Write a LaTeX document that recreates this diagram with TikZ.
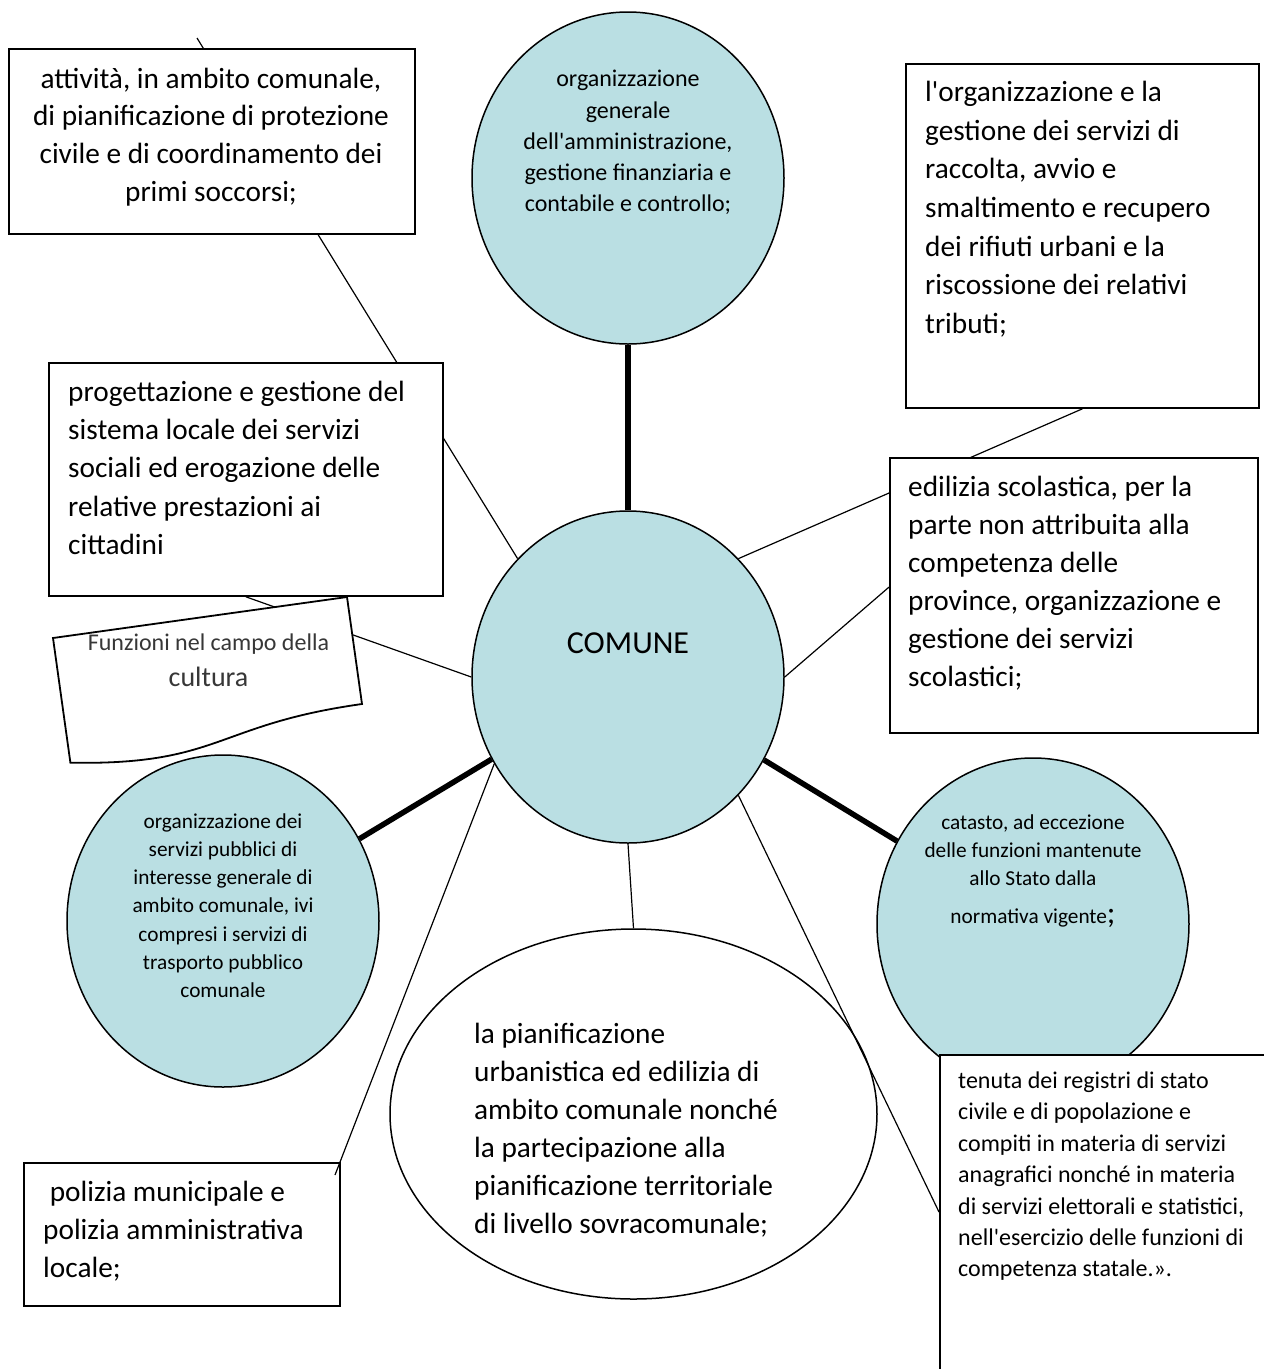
\documentclass[tikz,border=0pt]{standalone}
\usepackage{fontspec}
\setmainfont{Carlito}
\usetikzlibrary{calc,backgrounds,shapes.geometric}
\definecolor{circfill}{RGB}{186,223,227}
\definecolor{lighttext}{RGB}{55,55,55}
\begin{document}
\begin{tikzpicture}[x=1pt,y=-1pt,
  circ/.style={ellipse, draw=black, line width=1.5pt, fill=circfill, minimum width=312pt, minimum height=332pt, inner sep=0pt},
  boxsh/.style={rectangle, draw=black, line width=1.8pt, fill=white, inner sep=0pt, anchor=north west},
  conn/.style={line width=1.2pt},
  heavy/.style={line width=5.5pt},
  txtc/.style={inner sep=0pt, anchor=north, align=flush center, text width=400pt},
  txtl/.style={inner sep=0pt, anchor=north west, align=flush left, text width=400pt},
  bigfont/.style={font=\fontsize{29.3}{#1}\selectfont},
]
\useasboundingbox (0,0) rectangle (1264,1369);

% ---- shapes (bottom to top) ----
\node[circ] (topc) at (628,178) {};
\node[circ] (comune) at (628,677) {};
\node[circ] (leftc) at (223,921) {};
\node[circ] (catasto) at (1033,924) {};
\node[ellipse, draw=black, line width=1.5pt, fill=white, minimum width=487pt, minimum height=370pt, inner sep=0pt] (plan) at (633.5,1114) {};

\node[boxsh, minimum width=406pt, minimum height=185pt] (box1) at (8,48) {};
\node[boxsh, minimum width=394pt, minimum height=233pt] (box2) at (48,362) {};
\node[boxsh, minimum width=353pt, minimum height=344pt] (rifiuti) at (905,63) {};
\node[boxsh, minimum width=368pt, minimum height=275pt] (edilizia) at (889,457) {};
\node[boxsh, minimum width=330pt, minimum height=330pt] (tenuta) at (939,1054) {};
\node[boxsh, minimum width=316pt, minimum height=143pt] (polizia) at (23,1162) {};

% culture "document" shape
\draw[line width=1.8pt, fill=white] (53,638) coordinate (cultTL) -- (347,597) coordinate (cultTR)
  -- (362,704) coordinate (cultBR) .. controls (215,724.6) and (220.6,765.4) .. (70.4,762.7) coordinate (cultBL) -- cycle;

% ---- free ends ----
\coordinate (s1) at (197,38);
\coordinate (pz) at (335,1175);
\coordinate (tz) at (939,1212);
\coordinate (ed1) at ($(edilizia.north west)!0.47!(edilizia.south west)$);

% ---- connectors behind shapes ----
\begin{scope}[on background layer]
  \draw[conn] (comune.133) -- (s1);
  \draw[conn] (comune.west) -- (box2.south);
  \draw[conn] (comune.47) -- (rifiuti.south);
  \draw[conn] (comune.east) -- (ed1);
  \draw[heavy] (comune.north) -- (topc.south);
  \draw[heavy] (comune) -- (leftc);
  \draw[heavy] (comune) -- (catasto);
  \draw[conn] (comune.south) -- (plan.north);
\end{scope}
% connectors on top
\draw[conn] (comune.213) -- (pz);
\draw[conn] (comune.313) -- (tz);

% ---- texts ----
\node[txtc, bigfont=37.6] (t1) at (211,61.7) {\strut attività, in ambito comunale,\\ di pianificazione di protezione\\ civile e di coordinamento dei\\ primi soccorsi;};

\node[txtl, bigfont=38.3] (t2) at (68,374.2) {\strut progettazione e gestione del\\ sistema locale dei servizi\\ sociali ed erogazione delle\\ relative prestazioni ai\\ cittadini};

\node[txtl, bigfont=38.55] (t3) at (925,74.7) {\strut l\textquotesingle organizzazione e la\\ gestione dei servizi di\\ raccolta, avvio e\\ smaltimento e recupero\\ dei rifiuti urbani e la\\ riscossione dei relativi\\ tributi;};

\node[txtl, bigfont=38] (t4) at (908,470.1) {\strut edilizia scolastica, per la\\ parte non attribuita alla\\ competenza delle\\ province, organizzazione e\\ gestione dei servizi\\ scolastici;};

\node[txtl, bigfont=38] (t5) at (43,1175.1) {\strut\hspace*{6.6pt}polizia municipale e\\ polizia amministrativa\\ locale;};

\node[txtl, font=\fontsize{24}{31.45}\selectfont] (t6) at (958,1066) {\strut tenuta dei registri di stato\\ civile e di popolazione e\\ compiti in materia di servizi\\ anagrafici nonché in materia\\ di servizi elettorali e statistici,\\ nell\textquotesingle esercizio delle funzioni di\\ competenza statale.».};

\node[txtl, bigfont=38] (t7) at (474,1016.4) {\strut la pianificazione\\ urbanistica ed edilizia di\\ ambito comunale nonché\\ la partecipazione alla\\ pianificazione territoriale\\ di livello sovracomunale;};

\node[txtc, font=\fontsize{24}{31.25}\selectfont] (t8) at (628,64.8) {\strut organizzazione\\ generale\\ dell\textquotesingle amministrazione,\\ gestione finanziaria e\\ contabile e controllo;};

\node[txtc, font=\fontsize{21.3}{28.2}\selectfont] (t9) at (223,808.3) {\strut organizzazione dei\\ servizi pubblici di\\ interesse generale di\\ ambito comunale, ivi\\ compresi i servizi di\\ trasporto pubblico\\ comunale};

\node[txtc, font=\fontsize{21.3}{28}\selectfont] (t10) at (1033,809.7) {\strut catasto, ad eccezione\\ delle funzioni mantenute\\ allo Stato dalla\\[10pt] normativa vigente{\fontsize{32}{28}\selectfont;}};

\node[inner sep=0pt, anchor=base, font=\fontsize{32}{38}\selectfont] (t11) at (628,653.3) {COMUNE};

\node[inner sep=0pt, anchor=base, text=lighttext, font=\fontsize{24}{30}\selectfont] (t12) at (208.5,650.7) {Funzioni nel campo della};
\node[inner sep=0pt, anchor=base, text=lighttext, font=\fontsize{28}{34}\selectfont] (t13) at (208.5,686) {cultura};
\end{tikzpicture}
\end{document}
